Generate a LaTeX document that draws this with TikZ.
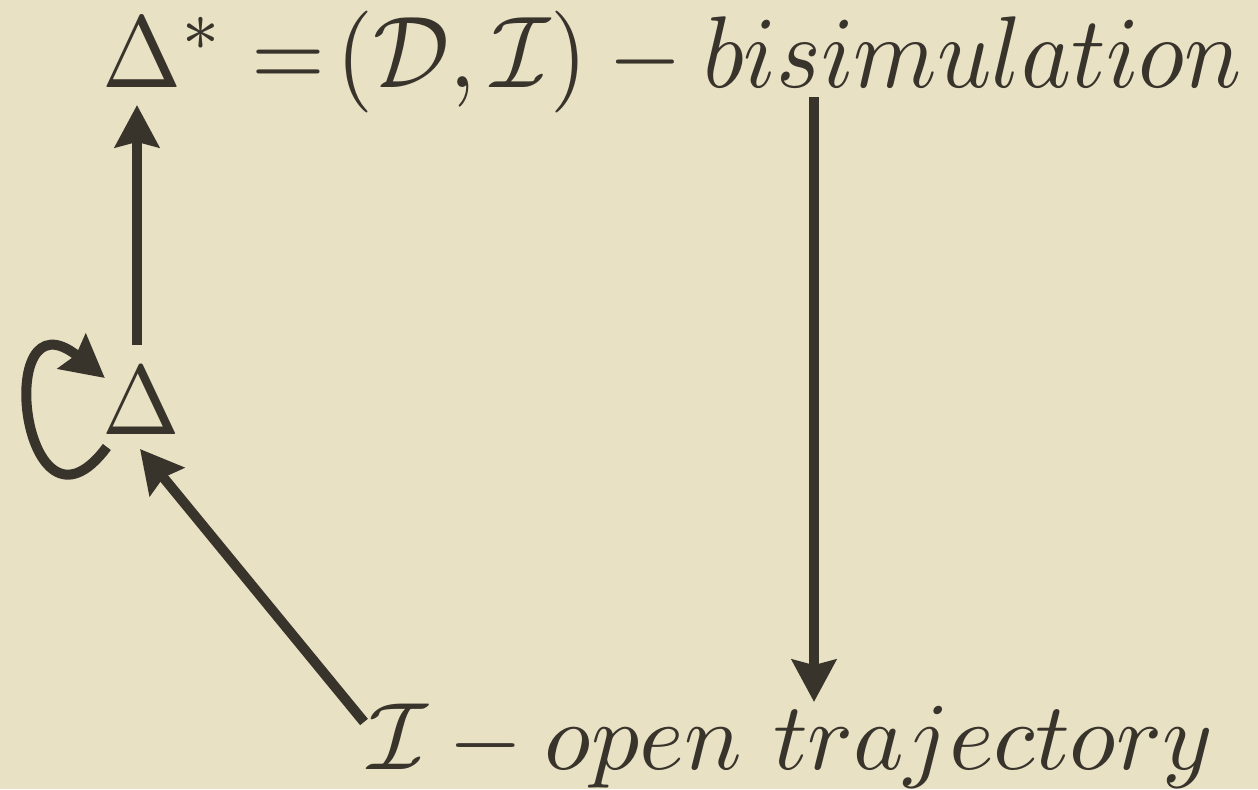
\RequirePackage{fix-cm}
\documentclass[tikz,border=0pt]{standalone}
\usepackage{amsmath,amssymb,graphicx}
\usetikzlibrary{positioning,calc,arrows.meta}
\definecolor{paper}{HTML}{E8E1C4}
\definecolor{ink}{HTML}{38332B}
\newcommand{\slidemath}[3]{\resizebox{#1}{#2\height}{$#3$}}

\begin{document}
\begin{tikzpicture}[x=0.02cm, y=-0.02cm]
\tikzset{
  lbl/.style={text=ink, inner sep=0pt, font=\normalsize},
  arr/.style={draw=ink, line width=5.7pt, -{Stealth[length=24pt, width=25pt, inset=3pt]}}
}
\fill[paper] (0,0) rectangle (1258,789);
\useasboundingbox (0,0) rectangle (1258,789);
\node[lbl, anchor=base west] (top) at (102,87) {\slidemath{22.8cm}{5.8}{\Delta^* =\!(\mathcal{D},\mathcal{I}) - bisimulation}};
\node[lbl] (delta) at (141,401) {\scalebox{5.3}[5.6]{$\Delta$}};
\node[lbl, anchor=base west] (bot) at (368,769) {\slidemath{16.9cm}{5.45}{\mathcal{I} - open\ trajectory}};
\draw[arr] ($(delta.north)+(-4,-22)$) -- ($(top.base west)+(35,18)$);
\draw[arr] ($(top.base west)+(712,10)$) -- ($(bot.base west)+(446,-67)$);
\draw[arr] ($(bot.base west)+(-4,-47)$) -- ($(delta.south)+(-1,14)$);
\draw[arr] ($(delta.south west)+(5,12)$) .. controls +(-84,113) and +(-114,-92) .. ($(delta.west)+(3,-23)$);
\end{tikzpicture}
\end{document}
